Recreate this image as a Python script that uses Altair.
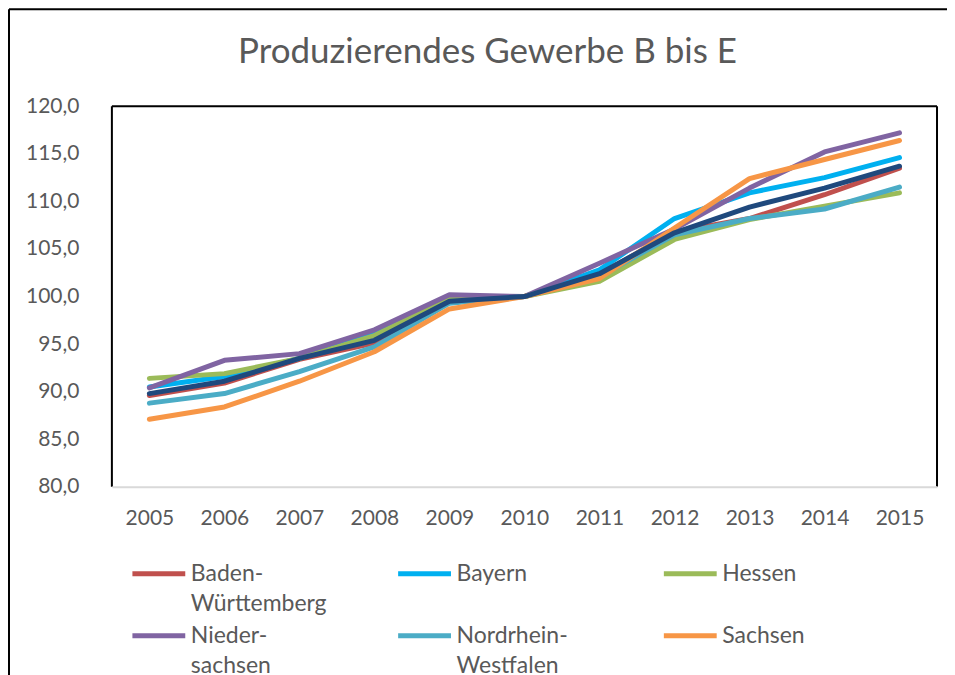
import altair as alt
import pandas as pd

# ---------------- data ----------------
years = ["2005", "2006", "2007", "2008", "2009", "2010",
         "2011", "2012", "2013", "2014", "2015"]

series = ["Baden-Württemberg", "Bayern", "Hessen", "Niedersachsen",
          "Nordrhein-Westfalen", "Sachsen", "Deutschland"]

baden_wuerttemberg = [89.6, 90.9, 93.4, 95.1, 99.5, 100.0, 102.3, 106.8, 108.2, 110.7, 113.5]
bayern = [90.5, 91.6, 93.5, 96.1, 99.6, 100.0, 102.8, 108.2, 110.9, 112.5, 114.6]
hessen = [91.4, 91.9, 93.5, 95.9, 99.8, 100.0, 101.6, 106.0, 108.1, 109.5, 110.9]
niedersachsen = [90.4, 93.3, 94.0, 96.5, 100.2, 100.0, 103.5, 107.1, 111.4, 115.2, 117.2]
nordrhein_westfalen = [88.8, 89.8, 92.1, 94.7, 99.3, 100.0, 102.1, 106.5, 108.2, 109.2, 111.5]
sachsen = [87.1, 88.4, 91.1, 94.2, 98.7, 100.0, 101.9, 107.2, 112.4, 114.4, 116.4]
deutschland = [89.8, 91.1, 93.5, 95.4, 99.5, 100.0, 102.4, 106.7, 109.4, 111.4, 113.7]

values = [baden_wuerttemberg, bayern, hessen, niedersachsen,
          nordrhein_westfalen, sachsen, deutschland]

colors = ["#C0504D", "#00B0F0", "#9BBB59", "#8064A2", "#4BACC6", "#F79646", "#1F497D"]

# wrapped legend labels as in the reference
legend_lines = {
    "Baden-Württemberg": ["Baden-", "Württemberg"],
    "Niedersachsen": ["Nieder-", "sachsen"],
    "Nordrhein-Westfalen": ["Nordrhein-", "Westfalen"],
}

y_ticks = [80, 85, 90, 95, 100, 105, 110, 115, 120]

title_text = "Produzierendes Gewerbe B bis E"

# ---------------- build table ----------------
rows = []
for s, vals in zip(series, values):
    for yr, v in zip(years, vals):
        rows.append({"Land": s, "Jahr": yr, "Wert": v})
df = pd.DataFrame(rows)

label_expr = ""
for name, parts in legend_lines.items():
    arr = "[" + ", ".join("'" + p + "'" for p in parts) + "]"
    label_expr += f"datum.label == '{name}' ? {arr} : "
label_expr += "[datum.label, ' ']"

TXT = "#595959"
W, H = 826, 381
PAD_R = 10

lines = alt.Chart(df).mark_line(
    strokeWidth=5, strokeCap="round", strokeJoin="round"
).encode(
    x=alt.X("Jahr:N", sort=years,
            scale=alt.Scale(type="point", padding=0.5),
            axis=alt.Axis(title=None, labelAngle=0, ticks=False, grid=False,
                          domain=True, domainColor="#D9D9D9", domainWidth=2,
                          labelFontSize=21, labelColor=TXT, labelPadding=21,
                          labelAlign="center", labelBaseline="top",
                          zindex=1)),
    y=alt.Y("Wert:Q",
            scale=alt.Scale(domain=[80, 120], nice=False, zero=False),
            axis=alt.Axis(title=None, values=y_ticks, ticks=False, grid=False,
                          domain=False, labelFontSize=21, labelColor=TXT,
                          labelPadding=33, labelAlign="right",
                          labelBaseline="middle",
                          labelExpr="replace(format(datum.value, '.1f'), '.', ',')")),
    color=alt.Color("Land:N", sort=series,
                    scale=alt.Scale(domain=series, range=colors),
                    legend=alt.Legend(title=None, orient="none",
                                      legendX=33, legendY=454,
                                      direction="horizontal", columns=3,
                                      gridAlign="all",
                                      columnPadding=61, rowPadding=6,
                                      symbolType="M-2.3,0H2.3", symbolSize=529,
                                      symbolStrokeWidth=5, labelOffset=18,
                                      labelFontSize=23, labelColor=TXT,
                                      labelLimit=400, labelExpr=label_expr)),
)

one = pd.DataFrame({"k": [0]})


def rule(**enc):
    return alt.Chart(one).mark_rule(stroke="black", strokeWidth=2).encode(**enc)


# outer chart-area frame (top and left edges visible in the reference)
frame_top = rule(x=alt.value(-103), x2=alt.value(W + PAD_R), y=alt.value(-97))
frame_left = rule(x=alt.value(-103), y=alt.value(-97), y2=alt.value(H + 200))
# plot-area frame: black on top, left and right, grey axis line at the bottom
plot_top = rule(x=alt.value(0), x2=alt.value(W), y=alt.value(0))
plot_left = rule(x=alt.value(0), y=alt.value(0), y2=alt.value(H))
plot_right = rule(x=alt.value(W), y=alt.value(0), y2=alt.value(H))

title = alt.Chart(pd.DataFrame({"t": [title_text]})).mark_text(
    fontSize=35, color=TXT, align="center", baseline="alphabetic"
).encode(
    text="t:N", x=alt.value(376), y=alt.value(-43),
)

chart = alt.layer(frame_top, frame_left, plot_top, plot_left, plot_right,
                  lines, title).properties(
    width=W, height=H,
    autosize=alt.AutoSizeParams(type="none"),
    padding={"left": 104, "top": 98, "right": PAD_R, "bottom": 188},
).configure(
    font="Lato", background="white",
    style={"guide-label": {"lineHeight": 30}},
).configure_view(
    strokeWidth=0,
)

chart.save("out.html", embed_options={"renderer": "svg", "actions": False})
